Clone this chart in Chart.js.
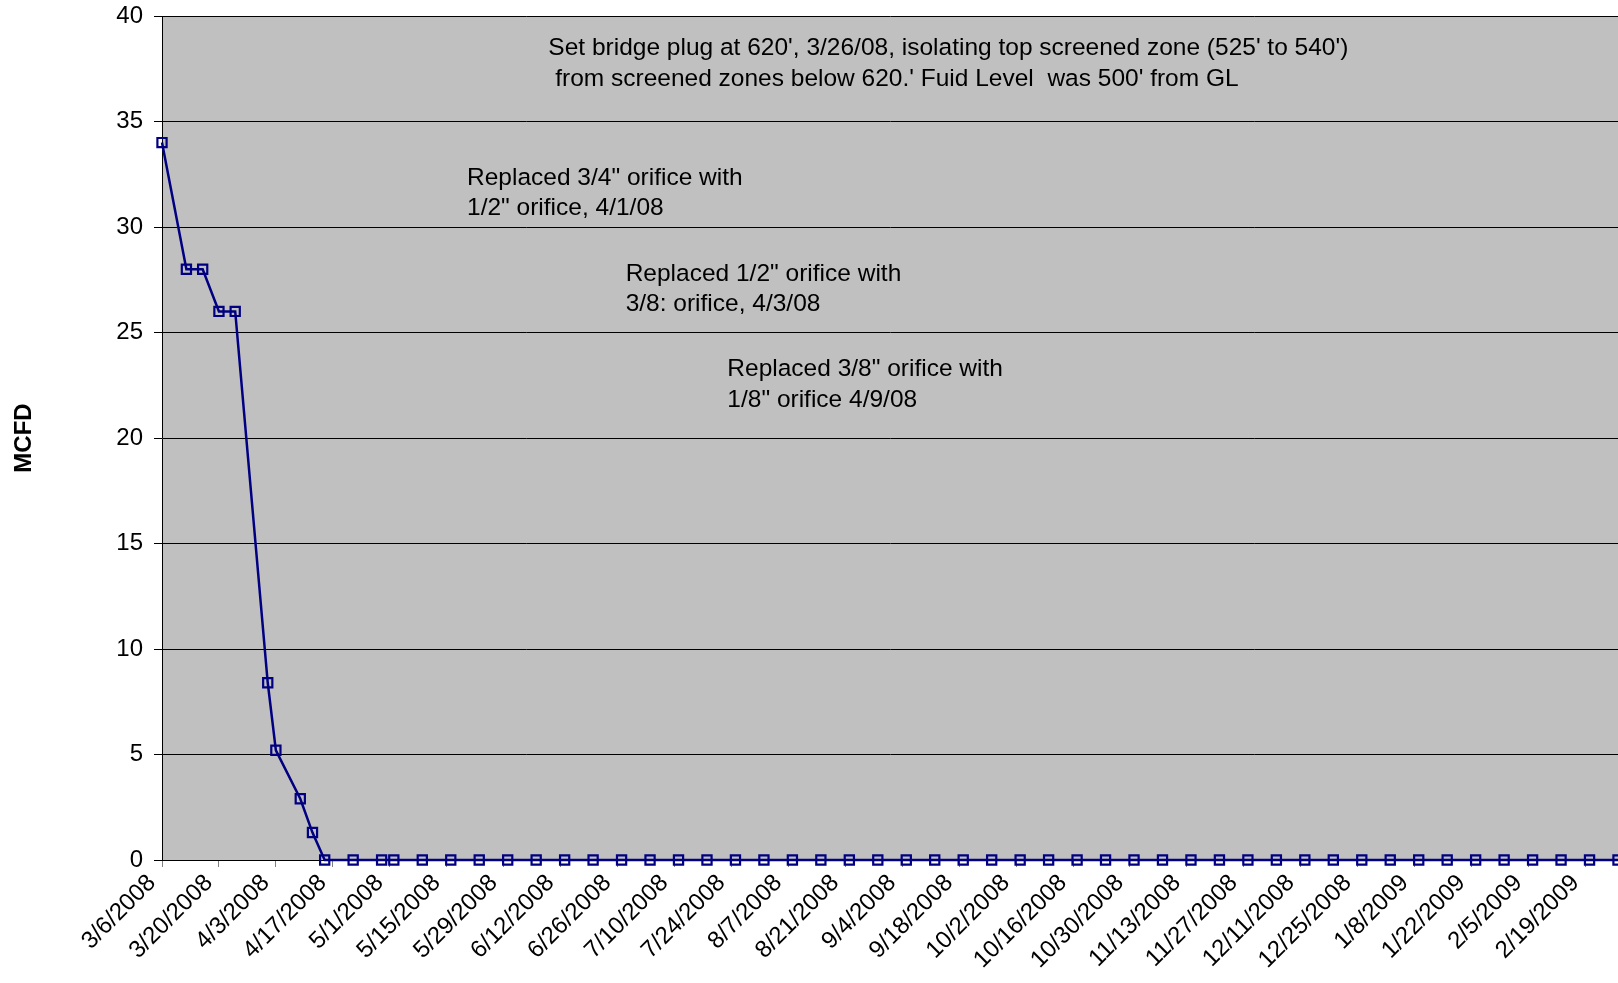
<!DOCTYPE html>
<html>
<head>
<meta charset="utf-8">
<script src="https://cdn.jsdelivr.net/npm/chart.js@4/dist/chart.umd.min.js"></script>
<style>
    html, body { margin: 0; padding: 0; background: #ffffff; }
    #wrap { width: 1618px; height: 983px; }
</style>
</head>
<body>
<div id="wrap"><canvas id="flowChart" width="1618" height="983"></canvas></div>
<script>
// readings (date of gauge reading, MCFD)
const readingDates = [
    '3/6/2008', '3/12/2008', '3/16/2008', '3/20/2008', '3/24/2008',
    '4/1/2008', '4/3/2008', '4/9/2008', '4/12/2008', '4/15/2008',
    '4/22/2008', '4/29/2008', '5/2/2008', '5/9/2008', '5/16/2008',
    '5/23/2008', '5/30/2008', '6/6/2008', '6/13/2008', '6/20/2008',
    '6/27/2008', '7/4/2008', '7/11/2008', '7/18/2008', '7/25/2008',
    '8/1/2008', '8/8/2008', '8/15/2008', '8/22/2008', '8/29/2008',
    '9/5/2008', '9/12/2008', '9/19/2008', '9/26/2008', '10/3/2008',
    '10/10/2008', '10/17/2008', '10/24/2008', '10/31/2008', '11/7/2008',
    '11/14/2008', '11/21/2008', '11/28/2008', '12/5/2008', '12/12/2008',
    '12/19/2008', '12/26/2008', '1/2/2009', '1/9/2009', '1/16/2009',
    '1/23/2009', '1/30/2009', '2/6/2009', '2/13/2009', '2/20/2009',
    '2/27/2009'
];
const mcfd = [
    34, 28, 28, 26, 26,
    8.4, 5.2, 2.9, 1.3, 0,
    0, 0, 0, 0, 0,
    0, 0, 0, 0, 0,
    0, 0, 0, 0, 0,
    0, 0, 0, 0, 0,
    0, 0, 0, 0, 0,
    0, 0, 0, 0, 0,
    0, 0, 0, 0, 0,
    0, 0, 0, 0, 0,
    0, 0, 0, 0, 0,
    0
];
const axisStart = '3/6/2008';
const axisEnd = '2/27/2009';
const tickEveryDays = 14;
const yTicks = [0, 5, 10, 15, 20, 25, 30, 35, 40];

// notes written on the plot: [date, MCFD] of the first letter's baseline
const notes = [
    {at: ['6/9/2008', 38.16], text: "Set bridge plug at 620', 3/26/08, isolating top screened zone (525' to 540')"},
    {at: ['6/9/2008', 36.7], text: " from screened zones below 620.' Fuid Level  was 500' from GL"},
    {at: ['5/20/2008', 31.98], text: 'Replaced 3/4" orifice with'},
    {at: ['5/20/2008', 30.56], text: '1/2" orifice, 4/1/08'},
    {at: ['6/28/2008', 27.43], text: 'Replaced 1/2" orifice with'},
    {at: ['6/28/2008', 26.0], text: '3/8: orifice, 4/3/08'},
    {at: ['7/23/2008', 22.92], text: 'Replaced 3/8" orifice with'},
    {at: ['7/23/2008', 21.45], text: '1/8" orifice 4/9/08'}
];

const DAY = 86400000;
function toUtc(s) {
    const p = s.split('/');
    return Date.UTC(+p[2], +p[0] - 1, +p[1]);
}
const t0 = toUtc(axisStart);
function dayOf(s) {
    return Math.round((toUtc(s) - t0) / DAY);
}
function labelOf(day) {
    const d = new Date(t0 + day * DAY);
    return (d.getUTCMonth() + 1) + '/' + d.getUTCDate() + '/' + d.getUTCFullYear();
}

const points = readingDates.map((s, i) => ({x: dayOf(s), y: mcfd[i]}));
const fontFamily = "'Liberation Sans', Arial, sans-serif";

const plotBackground = {
    id: 'plotBackground',
    beforeDraw(chart) {
        const a = chart.chartArea;
        const ctx = chart.ctx;
        ctx.save();
        ctx.fillStyle = '#c0c0c0';
        ctx.fillRect(a.left, a.top, a.right - a.left, a.bottom - a.top);
        ctx.restore();
    }
};

const plotNotes = {
    id: 'plotNotes',
    afterDatasetsDraw(chart) {
        const ctx = chart.ctx;
        const xs = chart.scales.x;
        const ys = chart.scales.y;
        ctx.save();
        ctx.font = '24.5px ' + fontFamily;
        ctx.fillStyle = '#000000';
        ctx.textAlign = 'left';
        ctx.textBaseline = 'alphabetic';
        notes.forEach(n => {
            ctx.fillText(n.text, xs.getPixelForValue(dayOf(n.at[0])), ys.getPixelForValue(n.at[1]));
        });
        ctx.restore();
    }
};

new Chart(document.getElementById('flowChart'), {
    type: 'line',
    data: {
        datasets: [
            {
                label: 'MCFD',
                data: points,
                borderColor: '#000080',
                borderWidth: 2.5,
                pointStyle: 'rect',
                pointRadius: 6.5,
                pointBorderWidth: 2.2,
                pointBorderColor: '#000080',
                pointBackgroundColor: 'rgba(0,0,0,0)',
                tension: 0,
                clip: false
            }
        ]
    },
    options: {
        responsive: false,
        animation: false,
        devicePixelRatio: 1,
        layout: {
            autoPadding: false,
            padding: {top: 16, right: 0, left: 0, bottom: 0}
        },
        plugins: {
            legend: {display: false},
            tooltip: {enabled: false}
        },
        scales: {
            x: {
                type: 'linear',
                min: 0,
                max: dayOf(axisEnd),
                afterBuildTicks(scale) {
                    const ticks = [];
                    for (let d = 0; d <= dayOf(axisEnd); d += tickEveryDays) {
                        ticks.push({value: d});
                    }
                    scale.ticks = ticks;
                },
                afterFit(scale) {
                    scale.height = 123;
                    scale.paddingLeft = 0;
                    scale.paddingRight = 0;
                },
                ticks: {
                    autoSkip: false,
                    minRotation: 45,
                    maxRotation: 45,
                    padding: 2,
                    labelOffset: -10,
                    color: '#000000',
                    font: {family: fontFamily, size: 24},
                    callback: value => labelOf(value)
                },
                grid: {
                    drawOnChartArea: false,
                    tickLength: 7,
                    color: '#808080'
                },
                border: {color: '#000000', width: 1}
            },
            y: {
                min: 0,
                max: 40,
                afterBuildTicks(scale) {
                    scale.ticks = yTicks.map(v => ({value: v}));
                },
                afterFit(scale) {
                    scale.width = 162;
                    scale.paddingTop = 0;
                    scale.paddingBottom = 0;
                },
                ticks: {
                    padding: 11,
                    color: '#000000',
                    font: {family: fontFamily, size: 24}
                },
                grid: {
                    color: '#000000',
                    lineWidth: 1,
                    tickLength: 8
                },
                border: {color: '#000000', width: 1},
                title: {
                    display: true,
                    text: 'MCFD',
                    color: '#000000',
                    padding: {top: 10, bottom: 0},
                    font: {family: fontFamily, size: 24, weight: 'bold'}
                }
            }
        }
    },
    plugins: [plotBackground, plotNotes]
});
</script>
</body>
</html>
